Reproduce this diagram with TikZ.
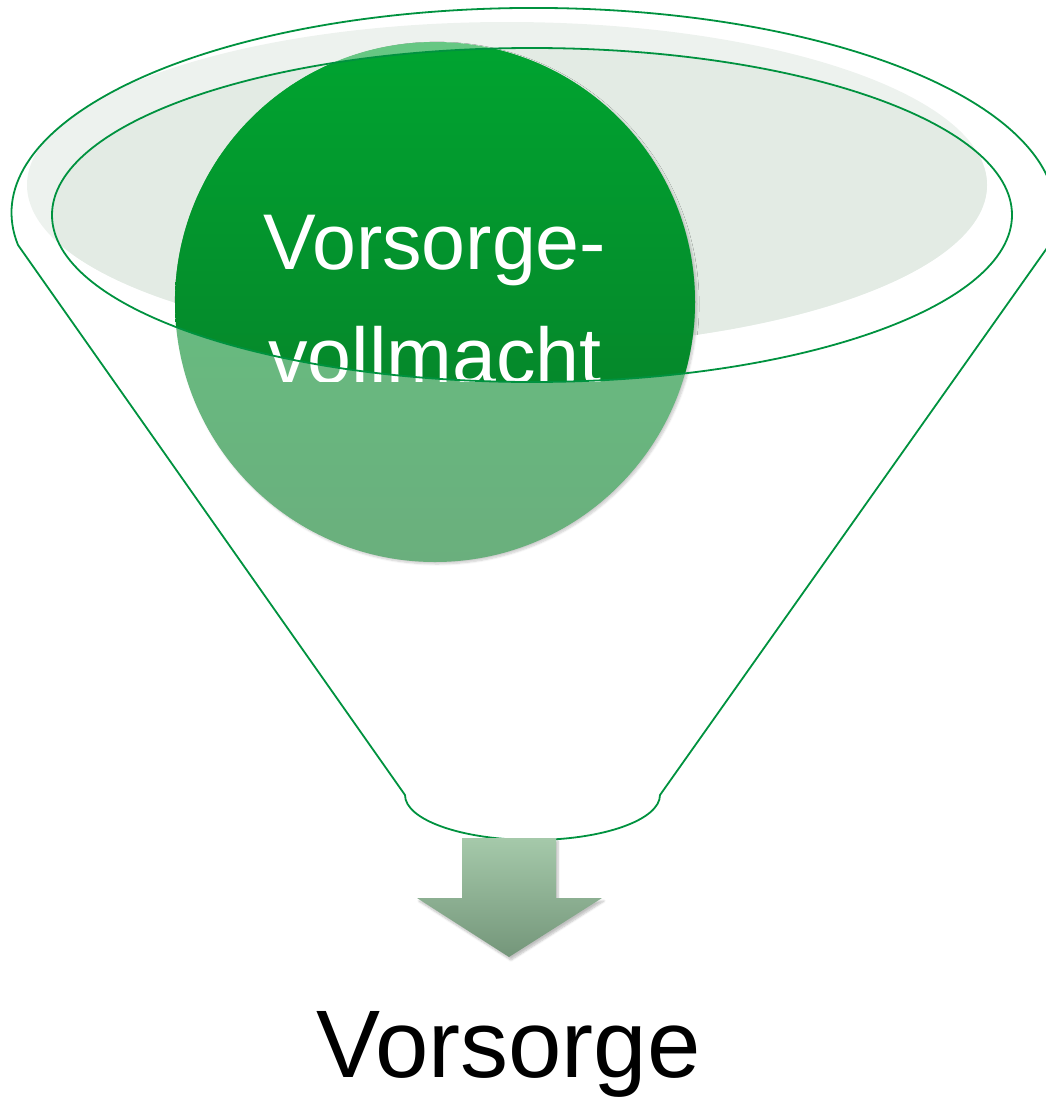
\documentclass[tikz,border=0pt]{standalone}
\usepackage{fontspec}
\setmainfont{Liberation Sans}
\usetikzlibrary{shadows.blur}
\definecolor{linegreen}{RGB}{0,146,63}
\definecolor{bowlA}{RGB}{237,242,238}
\definecolor{bowlB}{RGB}{227,235,228}
\definecolor{ballTop}{RGB}{0,164,48}
\definecolor{ballBot}{RGB}{8,122,40}
\definecolor{ballTopL}{RGB}{102,199,131}
\definecolor{ballBotL}{RGB}{106,175,125}
\definecolor{arrTop}{RGB}{165,201,170}
\definecolor{arrBot}{RGB}{116,150,122}
\tikzset{
  rim/.style={draw=linegreen, line width=1.8pt, line join=round},
  balltext/.style={text=white, inner sep=0pt, anchor=base, font=\fontsize{79}{95}\selectfont},
  labeltext/.style={text=black, inner sep=0pt, anchor=base, font=\fontsize{96}{115}\selectfont}
}
\begin{document}
\begin{tikzpicture}[x=1pt,y=1pt]
\useasboundingbox (0,0) rectangle (1045,-1098);
% back bowl fill
\fill[bowlA] (507,-185) ellipse [x radius=480, y radius=163];
\begin{scope}
  \clip (532,-215) ellipse [x radius=480, y radius=167];
  \fill[bowlB] (507,-185) ellipse [x radius=480, y radius=163];
\end{scope}
% ball, light part
\shade[top color=ballTopL, bottom color=ballBotL,
  blur shadow={shadow xshift=2pt, shadow yshift=-2pt, shadow opacity=20, shadow blur steps=6}]
  (435,-302) circle [radius=260];
% ball, strong part inside bowl
\begin{scope}
  \clip (532,-215) ellipse [x radius=480, y radius=167];
  \shade[top color=ballTop, bottom color=ballBot] (435,-302) circle [radius=260];
\end{scope}
% ball text
\begin{scope}
  \clip (0,0) rectangle (1045,-381);
  \node[balltext] (t1) at (435,-269) {Vorsorge-};
  \node[balltext] (t2) at (435,-383) {vollmacht};
\end{scope}
% inner rim
\draw[rim] (532,-215) ellipse [x radius=480, y radius=167];
% funnel outline
\draw[rim] (18,-245) arc [start angle=189, end angle=-9, x radius=522, y radius=205]
  -- (660,-795) arc [start angle=0, end angle=-180, x radius=127.5, y radius=45]
  -- cycle;
% arrow
\shade[top color=arrTop, bottom color=arrBot,
  blur shadow={shadow xshift=2pt, shadow yshift=-3pt, shadow opacity=25, shadow blur steps=6}]
  (462,-838) -- (556,-838) -- (556,-898) -- (602,-898) -- (509,-957)
  -- (417,-898) -- (462,-898) -- cycle;
% label
\node[labeltext] (lab) at (508.5,-1077) {Vorsorge};
\end{tikzpicture}
\end{document}
